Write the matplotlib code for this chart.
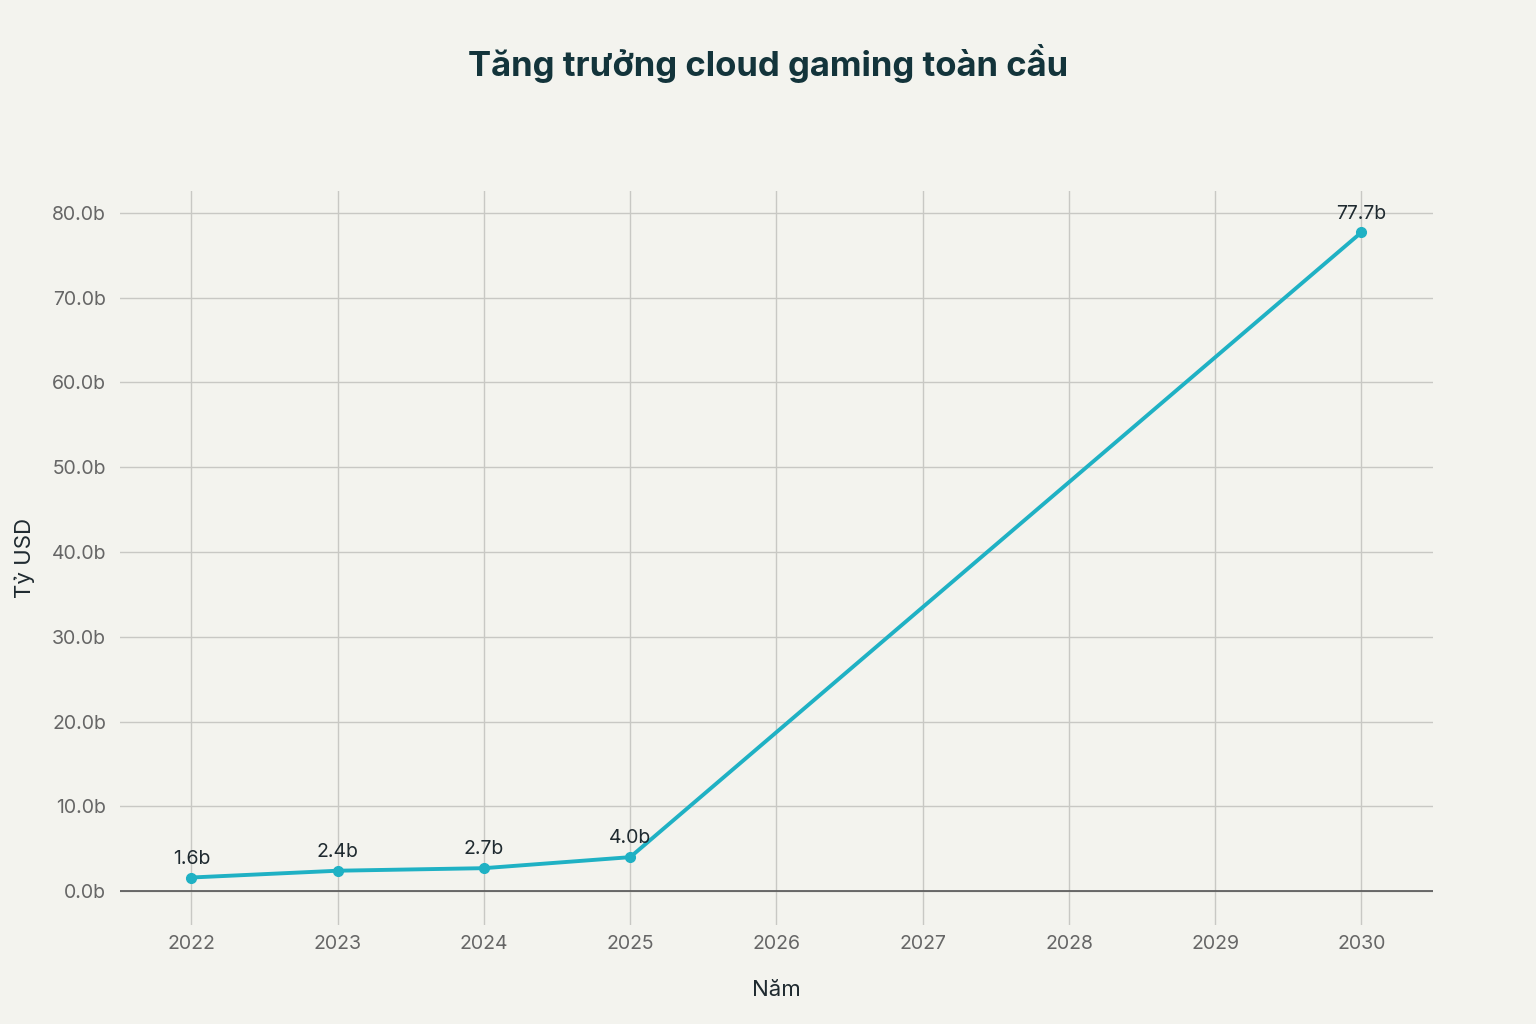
import matplotlib.pyplot as plt

years = [2022, 2023, 2024, 2025, 2030]
values = [1.6, 2.4, 2.7, 4.0, 77.7]
labels = ['1.6b', '2.4b', '2.7b', '4.0b', '77.7b']
xticks = list(range(2022, 2031))
yticks = [0, 10, 20, 30, 40, 50, 60, 70, 80]

bg = '#f3f3ee'
plt.rcParams['font.family'] = 'Inter'

fig = plt.figure(figsize=(15.36, 10.24), dpi=100, facecolor=bg)
ax = fig.add_axes([0.078, 0.0967, 0.855, 0.717], facecolor=bg)

ax.plot(years, values, color='#1fb1c4', linewidth=2.8, marker='o', markersize=7, zorder=3)
for x, y, t in zip(years, values, labels):
    ax.annotate(t, (x, y), xytext=(0, 7), textcoords='offset points',
                ha='center', va='bottom', fontsize=14, color='#1f2a30')

ax.set_xlim(2021.51, 2030.49)
ax.set_ylim(-4.0, 82.6)
ax.set_xticks(xticks)
ax.set_yticks(yticks)
ax.set_yticklabels([f'{v:.1f}b' for v in yticks])
ax.grid(True, color='#c8c8c4', linewidth=1)
ax.axhline(0, color='#555555', linewidth=1.2, zorder=2)
for s in ax.spines.values():
    s.set_visible(False)
ax.tick_params(length=0, labelsize=14, colors='#666666', pad=10)
ax.tick_params(axis='x', pad=7)

ax.set_xlabel('Năm', fontsize=16, color='#1f2a30', labelpad=20)
ax.set_ylabel('Tỷ USD', fontsize=16, color='#1f2a30', labelpad=12)
fig.text(0.5, 0.938, 'Tăng trưởng cloud gaming toàn cầu', ha='center', va='center',
         fontsize=25, fontweight='bold', color='#13343b')

fig.savefig('out.png', dpi=100, facecolor=bg)
